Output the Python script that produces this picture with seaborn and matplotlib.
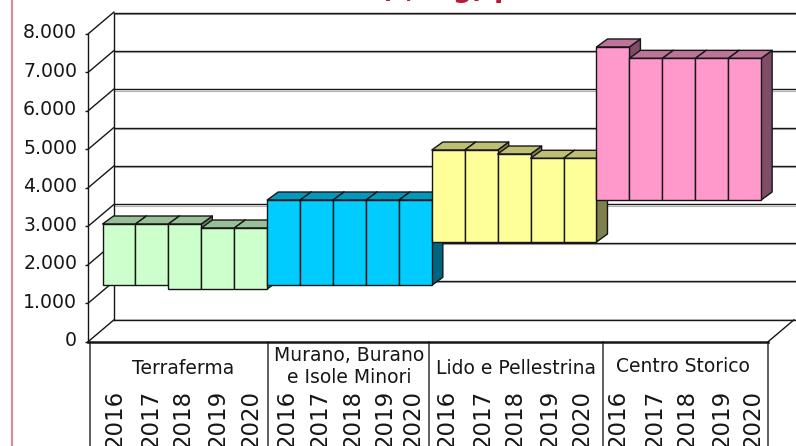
import numpy as np
import pandas as pd
import matplotlib
matplotlib.use("Agg")
import matplotlib.pyplot as plt
from matplotlib.lines import Line2D
from matplotlib.patches import Polygon
from matplotlib.transforms import ScaledTranslation
import seaborn as sns

# ---- data ----
zones = ["Terraferma", "Murano, Burano\ne Isole Minori", "Lido e Pellestrina", "Centro Storico"]
years = ["2016", "2017", "2018", "2019", "2020"]
low_terraferma = [1265, 1265, 1169, 1169, 1169]
high_terraferma = [2857, 2857, 2857, 2753, 2753]
low_murano = [1265, 1265, 1265, 1265, 1265]
high_murano = [3480, 3480, 3480, 3480, 3480]
low_lido = [2390, 2390, 2390, 2390, 2390]
high_lido = [4779, 4779, 4675, 4564, 4564]
low_centro = [3470, 3480, 3480, 3480, 3480]
high_centro = [7455, 7160, 7160, 7160, 7160]
zone_colors = ["#CCFFCC", "#00CCFF", "#FFFF99", "#FF99CC"]
value_ticks = [0, 1000, 2000, 3000, 4000, 5000, 6000, 7000, 8000]

lows = low_terraferma + low_murano + low_lido + low_centro
highs = high_terraferma + high_murano + high_lido + high_centro
df = pd.DataFrame({
    "pos": np.arange(20),
    "zona": np.repeat(zones, 5),
    "anno": years * 4,
    "low": lows,
    "height": np.array(highs) - np.array(lows),
})

W, H = 796, 446
sns.set_theme(style="white")
plt.rcParams["font.family"] = ["DejaVu Sans"]
fig = plt.figure(figsize=(W / 100, H / 100), dpi=100, facecolor="white")


def px_axes(left, top, right, bottom, **kw):
    return fig.add_axes([left / W, 1 - bottom / H, (right - left) / W, (bottom - top) / H], **kw)


INK = "#161616"
LW = 1.0

# ---- back wall ----
ax_wall = px_axes(114, 12.7, 800, 319.5)
ax_wall.set_ylim(0, 8000)
ax_wall.set_xlim(0, 1)
ax_wall.set_yticks(value_ticks)
ax_wall.set_xticks([])
ax_wall.tick_params(left=False, labelleft=False)
ax_wall.grid(axis="y", color=INK, lw=1.0)
ax_wall.set_axisbelow(True)
for v in value_ticks:
    # soft grey edge that runs under each wall line
    ax_wall.axhline(v - 1.1 / (306.8 / 8000), color="#b4b4b4", lw=0.8, zorder=0.5)
for s in ["left", "top", "bottom"]:
    ax_wall.spines[s].set(visible=True, color=INK, lw=1.0)
ax_wall.spines["right"].set_visible(False)

# ---- front plane: value axis and category table ----
FRONT_L, FRONT_R = 88, 768
STEP = 33.58
ax_front = px_axes(FRONT_L, 34, FRONT_R, 341.8)
ax_front.patch.set_visible(False)
ax_front.set_xlim((FRONT_L - 115) / STEP, (FRONT_R - 115) / STEP)
ax_front.set_ylim(0, 8000)
ax_front.set_yticks(value_ticks)
ax_front.set_yticklabels([f"{v:,}".replace(",", ".") for v in value_ticks],
                         fontsize=13.6, color=INK)
ax_front.tick_params(axis="y", left=True, length=2.4, width=LW, color=INK, pad=5.4)
for lab in ax_front.get_yticklabels():
    lab.set_transform(lab.get_transform() + ScaledTranslation(0, 3.2 / 100, fig.dpi_scale_trans))
year_px = [115, 151, 183, 218, 251, 287, 320, 353, 385, 413,
           447, 483, 515, 550, 582, 618, 655, 687, 722, 753]
ax_front.set_xticks([(p - 115) / STEP for p in year_px])
ax_front.set_xticklabels(df["anno"], rotation=90, fontsize=16.5, color=INK, va="top", ha="center")
ax_front.tick_params(axis="x", bottom=False, pad=28.4)
for s in ["top", "right"]:
    ax_front.spines[s].set_visible(False)
ax_front.spines["left"].set(visible=True, color=INK, lw=LW)
ax_front.spines["bottom"].set(visible=True, color=INK, lw=1.8)

# depth of the chart, expressed in front-axis units
depth_x = 26 / STEP
depth_v = 22 / (307.8 / 8000)
x_lo, x_hi = ax_front.get_xlim()
for v in value_ticks:
    ax_front.plot([x_lo, x_lo + depth_x], [v, v + depth_v], color=INK, lw=LW, clip_on=False, zorder=1)
ax_front.plot([x_hi, x_hi + depth_x], [0, depth_v], color=INK, lw=LW, clip_on=False, zorder=1)
ax_front.set_xlim(x_lo, x_hi)
ax_front.set_ylim(0, 8000)

# table separators below the axis
to_x = ax_front.get_xaxis_transform()
edge_px = [90.3, 268, 429, 603, 768.3]
edge_x = [(p - 115) / STEP for p in edge_px]
for e in edge_x:
    ax_front.plot([e, e], [0, -0.4], transform=to_x, color="#333333", lw=1.1, clip_on=False)

label_px = [183, 349.5, 515.5, 683]
label_y = [369, 366.5, 368, 367]
for z, lx, ly in zip(zones, label_px, label_y):
    ax_front.text((lx - 115) / STEP, (341.8 - ly) / 307.8, z, transform=to_x, ha="center", va="center",
                  fontsize=13.5, color=INK, linespacing=1.22, clip_on=False)

# ---- floating bars on their own plane ----
BAR = 32.93
V_PX = 0.0385
ax_bars = fig.add_axes([0, 0, 1, 1])
ax_bars.patch.set_visible(False)
for z, col in zip(zones, zone_colors):
    sub = df[df["zona"] == z]
    sns.barplot(data=sub, x="pos", y="height", bottom=sub["low"].to_numpy(), color=col,
                native_scale=True, width=1, saturation=1, errorbar=None,
                edgecolor=INK, linewidth=LW, ax=ax_bars)
ax_bars.set_xlim((0 - 119) / BAR, (W - 119) / BAR)
ax_bars.set_ylim((334 - H) / V_PX, 334 / V_PX)
ax_bars.axis("off")

bar_dx = 11 / BAR
bar_dv = 8 / V_PX
fronts = sorted(list(ax_bars.patches), key=lambda b: b.get_x())
for i, b in enumerate(fronts):
    x0, x1 = b.get_x(), b.get_x() + b.get_width()
    lo, hi = b.get_y(), b.get_y() + b.get_height()
    base = np.array(b.get_facecolor()[:3])
    b.set_zorder(10 + i + 0.5)
    side = Polygon([(x1, lo), (x1 + bar_dx, lo + bar_dv), (x1 + bar_dx, hi + bar_dv), (x1, hi)],
                   facecolor=base * 0.5, edgecolor=INK, lw=LW, zorder=10 + i, joinstyle="round")
    top = Polygon([(x0, hi), (x0 + bar_dx, hi + bar_dv), (x1 + bar_dx, hi + bar_dv), (x1, hi)],
                  facecolor=base * 0.75, edgecolor=INK, lw=LW, zorder=10 + i, joinstyle="round")
    ax_bars.add_patch(side)
    ax_bars.add_patch(top)

# ---- page furniture: pink border and the cropped title ----
fig.add_artist(Line2D([12.5 / W, 12.5 / W], [0, 1], color="#D98C9C", lw=1.6))
fig.text(380 / W, 1 + 2.6 / H, "(t,  kg) p", color="#B01E3C", fontsize=19.5, fontweight="bold",
         ha="left", va="baseline")

fig.savefig("out.png", dpi=100)
